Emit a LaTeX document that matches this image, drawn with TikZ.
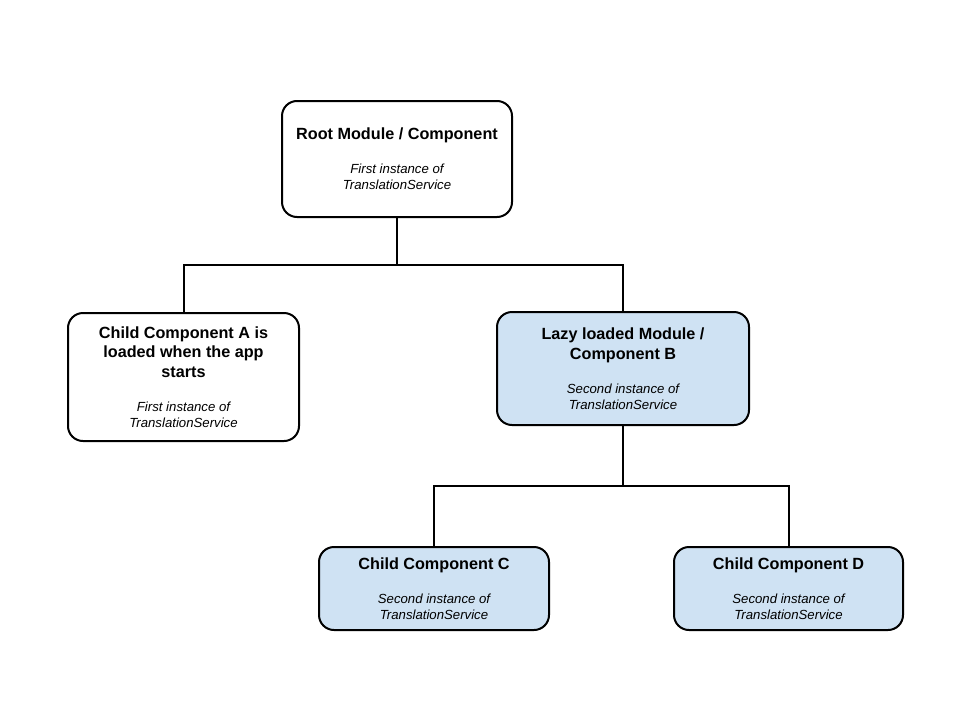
\documentclass[tikz,border=0pt]{standalone}
\usepackage{fontspec}
\setmainfont{Liberation Sans}
\definecolor{lightblue}{HTML}{CFE2F3}
\newcommand{\ttlfont}{\fontsize{16.2}{19.5}\selectfont\bfseries\upshape}
\newcommand{\subfont}{\fontsize{13.2}{16}\selectfont\mdseries\itshape}
\newcommand{\gapsub}{\par\vspace{18pt}\subfont}
\newcommand{\boxtail}{\par\vspace{-4pt}}
\begin{document}
\begin{tikzpicture}[x=1pt,y=-1pt,
  box/.style={draw=black, line width=2pt, rounded corners=15pt, align=flush center, text width=220pt, inner sep=0pt, fill=white, font=\ttlfont},
  bluebox/.style={box, fill=lightblue},
  conn/.style={line width=2pt}]
\useasboundingbox (0,0) rectangle (960,720);
\node[box, minimum width=230pt, minimum height=116pt] (root) at (397,159)
  {Root Module / Component\gapsub First instance of\\TranslationService\boxtail};
\node[box, minimum width=231pt, minimum height=128pt] (a) at (183.5,377)
  {Child Component A is\\loaded when the app\\starts\gapsub First instance of\\TranslationService\boxtail};
\node[bluebox, minimum width=252pt, minimum height=113pt] (b) at (623,368.5)
  {Lazy loaded Module /\\Component B\gapsub Second instance of\\TranslationService\boxtail};
\node[bluebox, minimum width=230pt, minimum height=83pt] (c) at (434,588.5)
  {Child Component C\gapsub Second instance of\\TranslationService\boxtail};
\node[bluebox, minimum width=229pt, minimum height=83pt] (d) at (788.5,588.5)
  {Child Component D\gapsub Second instance of\\TranslationService\boxtail};
\coordinate (j1) at (397,265);
\coordinate (j2) at (623,486);
\draw[conn] (root.south) -- (j1);
\draw[conn] (a.north) |- (j1);
\draw[conn] (b.north) |- (j1);
\draw[conn] (b.south) -- (j2);
\draw[conn] (c.north) |- (j2);
\draw[conn] (d.north) |- (j2);
\end{tikzpicture}
\end{document}
